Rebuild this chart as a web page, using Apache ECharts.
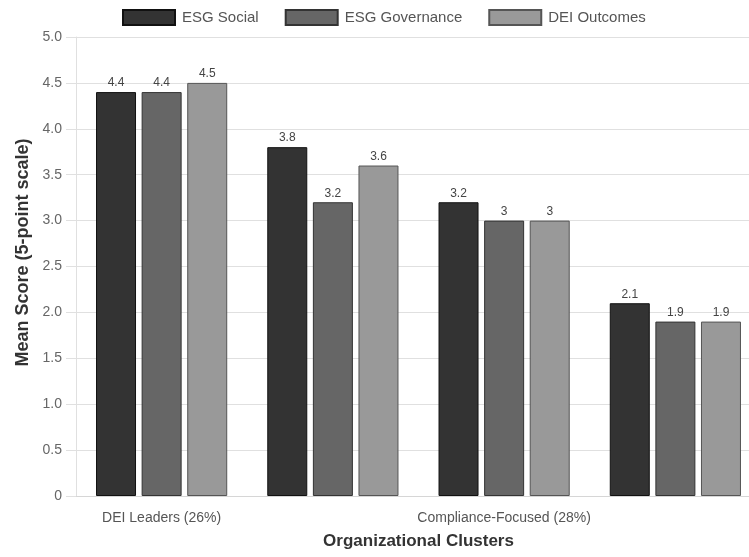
<!DOCTYPE html>
<html>
<head>
<meta charset="utf-8">
<script src="https://cdn.jsdelivr.net/npm/echarts@6/dist/echarts.min.js"></script>
<style>
  html, body { margin: 0; padding: 0; background: #fff; }
  #chart { width: 749px; height: 557px; }
</style>
</head>
<body>
<div id="chart"></div>
<script>
// Cluster names and the three mean scores per cluster (5-point scale)
const categories = [
  'DEI Leaders (26%)',
  'Emerging Adopters (24%)',
  'Compliance-Focused (28%)',
  'Minimal Engagement (22%)'
];
const esgSocial = [4.4, 3.8, 3.2, 2.1];
const esgGovernance = [4.4, 3.2, 3.0, 1.9];
const deiOutcomes = [4.5, 3.6, 3.0, 1.9];

const FONT = '"Liberation Sans", Arial, Helvetica, sans-serif';

function barSeries(name, data, fill, border) {
  return {
    name: name,
    type: 'bar',
    data: data,
    barWidth: 40,
    barGap: '14%',
    itemStyle: { color: fill, borderColor: border, borderWidth: 1 },
    label: {
      show: true,
      position: 'top',
      distance: 3,
      color: '#444',
      fontSize: 12,
      fontFamily: FONT
    }
  };
}

const chart = echarts.init(document.getElementById('chart'));
chart.setOption({
  animation: false,
  backgroundColor: '#fff',
  textStyle: { fontFamily: FONT },
  legend: {
    top: 4,
    left: 117,
    itemWidth: 52,
    itemHeight: 15,
    itemGap: 26,
    icon: 'rect',
    textStyle: { fontSize: 15, color: '#555', fontFamily: FONT, padding: [0, 0, 0, 2] }
  },
  // the plot runs a little past the right edge of the page
  grid: { left: 76, width: 685, top: 37, bottom: 61, outerBoundsMode: 'none' },
  xAxis: {
    type: 'category',
    data: categories,
    name: 'Organizational Clusters',
    nameLocation: 'middle',
    nameGap: 37,
    nameTextStyle: { fontSize: 17, fontWeight: 'bold', color: '#333', fontFamily: FONT },
    axisLine: { show: true, lineStyle: { color: '#d6d6d6' } },
    axisTick: { show: false },
    axisLabel: { interval: 1, margin: 15, fontSize: 14, color: '#555', fontFamily: FONT },
    splitLine: { show: false }
  },
  yAxis: {
    type: 'value',
    min: 0,
    max: 5,
    interval: 0.5,
    name: 'Mean Score (5-point scale)',
    nameLocation: 'middle',
    nameGap: 43,
    nameTextStyle: { fontSize: 18, fontWeight: 'bold', color: '#333', fontFamily: FONT, padding: [0, 0, 0, 28] },
    axisLine: { show: true, lineStyle: { color: '#e0e0e0' } },
    axisTick: { show: true, length: 10, lineStyle: { color: '#e0e0e0' } },
    axisLabel: {
      margin: 14,
      fontSize: 14,
      color: '#666',
      fontFamily: FONT,
      formatter: v => (v === 0 ? '0' : v.toFixed(1))
    },
    splitLine: { show: true, lineStyle: { color: '#e0e0e0' } }
  },
  series: [
    barSeries('ESG Social', esgSocial, '#333333', '#111111'),
    barSeries('ESG Governance', esgGovernance, '#666666', '#333333'),
    barSeries('DEI Outcomes', deiOutcomes, '#999999', '#555555')
  ]
});
</script>
</body>
</html>
